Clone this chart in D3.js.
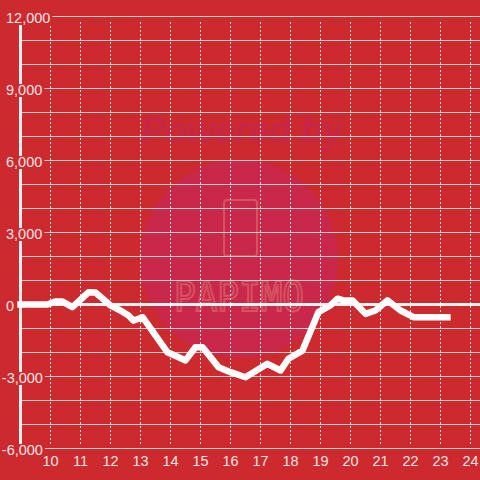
<!DOCTYPE html>
<html>
<head>
<meta charset="utf-8">
<script src="https://cdn.jsdelivr.net/npm/d3@7"></script>
<style>
  body { margin: 0; background: #cc2a2f; }
  svg { display: block; }
</style>
</head>
<body>
<div></div>
<script>
// data: hour of day -> value
var hours = [9.0, 9.9, 10.17, 10.4, 10.73, 11.27, 11.5, 12.0, 12.33, 12.6, 12.77, 13.07,
             13.9, 14.27, 14.5, 14.83, 15.07, 15.6, 16.0, 16.5, 17.23, 17.67, 17.93, 18.4,
             18.93, 19.33, 19.57, 19.77, 20.07, 20.5, 20.83, 21.23, 21.67, 22.1, 23.23];
var values = [0, 0, 130, 120, -110, 510, 500, -40, -250, -460, -670, -530,
              -1990, -2200, -2330, -1780, -1780, -2610, -2820, -3030, -2470, -2750, -2260, -1920,
              -320, -40, 240, 170, 170, -390, -250, 170, -250, -530, -530];

var xTicks = [10, 11, 12, 13, 14, 15, 16, 17, 18, 19, 20, 21, 22, 23, 24];
var yTicks = [12000, 9000, 6000, 3000, 0, -3000, -6000];
var yGrid = d3.range(-6000, 12001, 1000);

var width = 480, height = 480;
var bg = "#cc2a2f";
var labelColor = "#f6e4e4";
var font = "'Liberation Sans', Arial, sans-serif";

var x = d3.scaleLinear().domain([9, 24]).range([20.5, 470.5]);
var y = d3.scaleLinear().domain([-6000, 12000]).range([448.5, 16.5]);

var svg = d3.select("body").select("div").append("svg")
    .attr("width", width)
    .attr("height", height);

svg.append("rect")
    .attr("width", width)
    .attr("height", height)
    .style("fill", bg);

// faint watermark
var wm = svg.append("g");
wm.append("circle")
    .attr("cx", 239).attr("cy", 259).attr("r", 99)
    .style("fill", "#c9284a");
wm.append("text")
    .text("Powered by")
    .attr("x", 242).attr("y", 143)
    .attr("text-anchor", "middle")
    .style("font-family", font)
    .style("font-size", "36px")
    .style("font-weight", 700)
    .style("font-style", "italic")
    .style("fill", "#c72745");
wm.append("rect")
    .attr("x", 224).attr("y", 200).attr("width", 33).attr("height", 56).attr("rx", 3)
    .style("fill", "none")
    .style("stroke", "#d65462")
    .style("stroke-width", 2);
wm.append("text")
    .text("PAPIMO")
    .attr("x", 239).attr("y", 305)
    .attr("text-anchor", "middle")
    .attr("transform", "translate(0,-40) scale(1,1.15)")
    .style("font-family", "'DejaVu Sans Mono', monospace")
    .style("font-size", "36px")
    .style("fill", "none")
    .style("stroke", "#d65462")
    .style("stroke-width", 1.8);

// horizontal grid
svg.append("g").selectAll("line")
    .data(yGrid)
    .enter().append("line")
    .attr("x1", 22).attr("x2", width)
    .attr("y1", function(d) { return y(d); })
    .attr("y2", function(d) { return y(d); })
    .style("stroke", "#cfcfcf")
    .style("stroke-width", 1);

// vertical dashed grid
svg.append("g").selectAll("line")
    .data(xTicks)
    .enter().append("line")
    .attr("x1", function(d) { return x(d); })
    .attr("x2", function(d) { return x(d); })
    .attr("y1", 22).attr("y2", 446)
    .style("stroke", "#e6e0e0")
    .style("stroke-width", 1)
    .style("stroke-dasharray", "2,2");

// zero line
svg.append("line")
    .attr("x1", 22).attr("x2", width)
    .attr("y1", y(0)).attr("y2", y(0))
    .style("stroke", "#f2f2f2")
    .style("stroke-width", 3);

// y axis line
svg.append("line")
    .attr("x1", x(9)).attr("x2", x(9))
    .attr("y1", 24).attr("y2", y(-6000))
    .style("stroke", "#f0f0f0")
    .style("stroke-width", 3);

// the series
var data = hours.map(function(h, i) { return {h: h, v: values[i]}; });
var line = d3.line()
    .x(function(d) { return x(d.h); })
    .y(function(d) { return y(d.v); });

svg.append("path")
    .datum(data)
    .attr("d", line)
    .style("fill", "none")
    .style("stroke", "#ffffff")
    .style("stroke-width", 6.5)
    .style("stroke-linejoin", "round")
    .style("stroke-linecap", "square");

// y labels with background boxes
var fmt = d3.format(",");
var yl = svg.append("g").selectAll("g")
    .data(yTicks)
    .enter().append("g");

yl.append("text")
    .text(function(d) { return fmt(d).replace("\u2212", "-"); })
    .attr("x", function(d) { return d < 0 ? 1.8 : 6; })
    .attr("y", function(d) { return y(d) + 6.5; })
    .style("font-family", font)
    .style("font-size", "14.5px")
    .style("fill", labelColor)
    .each(function() {
        var b = this.getBBox();
        d3.select(this.parentNode).insert("rect", "text")
            .attr("x", b.x - 1)
            .attr("y", b.y + 2)
            .attr("width", b.width + 3)
            .attr("height", b.height - 3)
            .style("fill", bg);
    });

// x labels
svg.append("g").selectAll("text")
    .data(xTicks)
    .enter().append("text")
    .text(function(d) { return d; })
    .attr("x", function(d) { return x(d); })
    .attr("y", 466)
    .attr("text-anchor", "middle")
    .style("font-family", font)
    .style("font-size", "14.5px")
    .style("fill", labelColor);
</script>
</body>
</html>
